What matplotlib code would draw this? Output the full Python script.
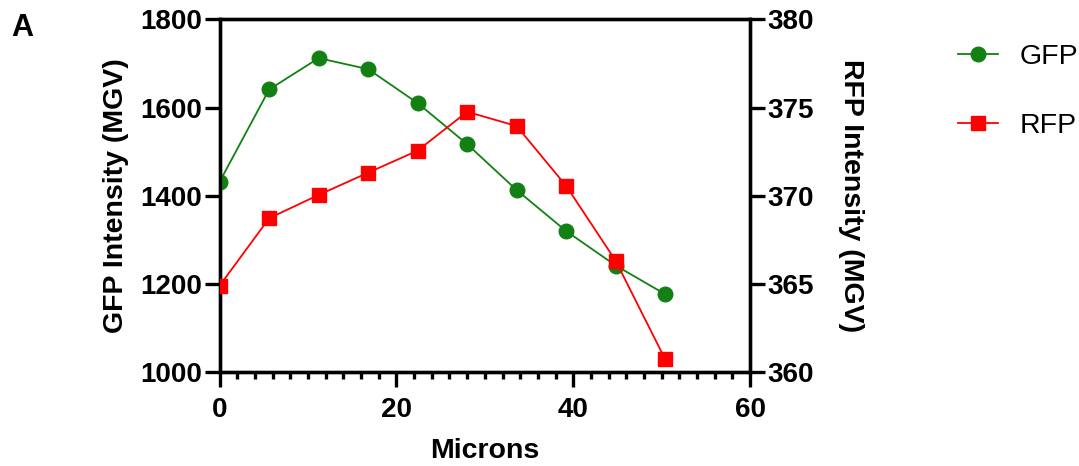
import matplotlib
matplotlib.use("Agg")
import matplotlib.pyplot as plt
from matplotlib.ticker import MultipleLocator
from matplotlib.lines import Line2D

plt.rcParams['font.family'] = ['Liberation Sans', 'DejaVu Sans']

# Distance along the sample (microns)
microns = [0, 5.6, 11.2, 16.8, 22.4, 28.0, 33.6, 39.2, 44.8, 50.4]
# Mean grey values
gfp = [1432, 1641, 1712, 1687, 1610, 1517, 1413, 1320, 1242, 1177]
rfp = [364.91, 368.73, 370.05, 371.31, 372.56, 374.76, 373.95, 370.56, 366.32, 360.74]

green = '#138013'
red = '#ff0000'

fig = plt.figure(figsize=(10.79, 4.66), dpi=100)
ax = fig.add_axes([0.2036, 0.2011, 0.4915, 0.7575])
ax2 = ax.twinx()

ax.plot(microns, gfp, color=green, lw=1.3, marker='o', ms=10.5, zorder=3)
ax2.plot(microns, rfp, color=red, lw=1.3, marker='s', ms=10, zorder=3)

ax.set_xlim(0, 60)
ax.set_ylim(1000, 1800)
ax2.set_ylim(360, 380)

ax.xaxis.set_major_locator(MultipleLocator(20))
ax.xaxis.set_minor_locator(MultipleLocator(2))
ax.yaxis.set_major_locator(MultipleLocator(200))
ax2.yaxis.set_major_locator(MultipleLocator(5))

for a in (ax, ax2):
    for s in a.spines.values():
        s.set_linewidth(2.4)
    a.tick_params(which='major', length=10.5, width=2.4, labelsize=20, direction='out')
    a.tick_params(which='minor', length=5, width=2.4, direction='out')
    for lab in a.get_xticklabels() + a.get_yticklabels():
        lab.set_fontweight('bold')
ax.tick_params(axis='x', pad=7)
ax.tick_params(axis='y', pad=2)
ax2.tick_params(axis='y', pad=2)

ax.set_xlabel('Microns', fontsize=20.5, fontweight='bold', labelpad=11)
ax.set_ylabel('GFP Intensity (MGV)', fontsize=20.5, fontweight='bold', labelpad=8)
ax2.set_ylabel('RFP Intensity (MGV)', fontsize=20.5, fontweight='bold',
               rotation=270, labelpad=36)

fig.text(0.010, 0.923, 'A', fontsize=22, fontweight='bold')

handles = [
    Line2D([], [], color=green, lw=1.3, marker='o', ms=10.5),
    Line2D([], [], color=red, lw=1.3, marker='s', ms=10),
]
fig.legend(handles, ['GFP', 'RFP'], loc='upper left',
           bbox_to_anchor=(0.8879, 0.905), frameon=False, fontsize=20.5,
           borderpad=0, borderaxespad=0,
           handlelength=1.4, handletextpad=0.75, labelspacing=1.49)

fig.savefig('out.png', dpi=100)
